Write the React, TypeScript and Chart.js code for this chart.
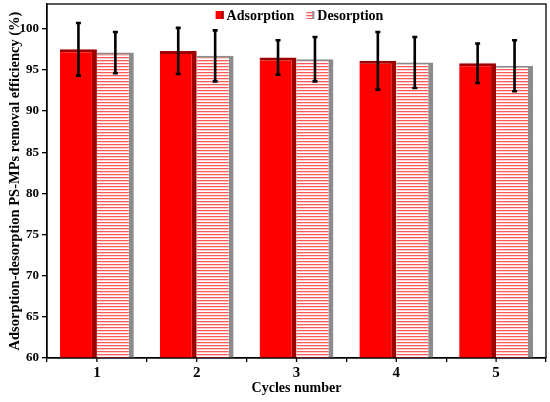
import { useEffect, useRef } from "react";
import { Chart, registerables } from "chart.js";

Chart.register(...registerables);

const cycles = ["1", "2", "3", "4", "5"];
const adsorption = [97.5, 97.3, 96.5, 96.1, 95.8];
const adsorptionErr = [3.2, 2.8, 2.1, 3.5, 2.4];
const desorption = [97.1, 96.7, 96.3, 95.9, 95.5];
const desorptionErr = [2.5, 3.1, 2.7, 3.1, 3.1];
const errors = [adsorptionErr, desorptionErr];

const FONT = "'Liberation Serif', 'Times New Roman', serif";

// striped fill for the desorption bars
function makeStripes(ctx: CanvasRenderingContext2D) {
  const c = document.createElement("canvas");
  c.width = 4;
  c.height = 3;
  const p = c.getContext("2d")!;
  p.fillStyle = "#ffffff";
  p.fillRect(0, 0, 4, 3);
  p.fillStyle = "#ff5a5a";
  p.fillRect(0, 0, 4, 1);
  p.fillStyle = "#ffd0d0";
  p.fillRect(0, 1, 4, 1);
  return ctx.createPattern(c, "repeat")!;
}

const errorBars = {
  id: "errorBars",
  afterDatasetsDraw(chart: any) {
    const { ctx } = chart;
    const y = chart.scales.y;
    ctx.save();
    ctx.strokeStyle = "#000";
    ctx.lineWidth = 2.6;
    chart.data.datasets.forEach((ds: any, i: number) => {
      const meta = chart.getDatasetMeta(i);
      meta.data.forEach((bar: any, j: number) => {
        const v = ds.data[j];
        const e = errors[i][j];
        const top = y.getPixelForValue(v + e);
        const bot = y.getPixelForValue(v - e);
        const x = bar.x;
        ctx.beginPath();
        ctx.moveTo(x, top);
        ctx.lineTo(x, bot);
        ctx.moveTo(x - 2.5, top);
        ctx.lineTo(x + 2.5, top);
        ctx.moveTo(x - 2.5, bot);
        ctx.lineTo(x + 2.5, bot);
        ctx.stroke();
      });
    });
    ctx.restore();
  },
};

const frame = {
  id: "frame",
  afterDraw(chart: any) {
    const { ctx, chartArea } = chart;
    const x = chart.scales.x;
    ctx.save();
    ctx.strokeStyle = "#000";
    ctx.lineWidth = 1.3;
    ctx.strokeRect(chartArea.left, chartArea.top, chartArea.right - chartArea.left, chartArea.bottom - chartArea.top);
    // tick marks under each category centre
    ctx.beginPath();
    cycles.forEach((_, i) => {
      const px = x.getPixelForTick(i);
      ctx.moveTo(px, chartArea.bottom);
      ctx.lineTo(px, chartArea.bottom + 4);
    });
    ctx.stroke();

    // legend inside the plot, top centre
    ctx.font = `bold 14px ${FONT}`;
    ctx.textBaseline = "middle";
    const items = chart.data.datasets.map((ds: any) => ({
      text: ds.label,
      fill: ds.backgroundColor,
      stroke: ds.borderColor,
      w: ctx.measureText(ds.label).width,
    }));
    const box = 8;
    const gap = 3;
    const between = 12;
    const total = items.reduce((s: number, it: any) => s + box + gap + it.w, 0) + between * (items.length - 1);
    let lx = (chartArea.left + chartArea.right) / 2 - total / 2 + 3;
    const ly = chartArea.top + 11;
    items.forEach((it: any) => {
      ctx.fillStyle = it.fill;
      ctx.fillRect(lx, ly - box / 2, box, box);
      ctx.fillStyle = it.stroke;
      ctx.fillRect(lx + box - 2, ly - box / 2, 2, box);
      ctx.fillStyle = "#000";
      ctx.fillText(it.text, lx + box + gap, ly + 1);
      lx += box + gap + it.w + between;
    });
    ctx.restore();
  },
};

export default function App() {
  const chartRef = useRef<HTMLCanvasElement>(null);
  const chartInstance = useRef<Chart<"bar"> | null>(null);

  useEffect(() => {
    if (!chartRef.current) return;
    const ctx = chartRef.current.getContext("2d");
    if (!ctx) return;

    Chart.defaults.font.family = FONT;
    Chart.defaults.font.weight = "bold";
    Chart.defaults.color = "#000";

    chartInstance.current = new Chart(ctx, {
      type: "bar",
      data: {
        labels: cycles,
        datasets: [
          {
            label: "Adsorption",
            data: adsorption,
            backgroundColor: "#ff0000",
            borderColor: "#9e0000",
            borderWidth: { top: 3, right: 5, left: 0, bottom: 0 },
            borderSkipped: "start",
            barPercentage: 1,
            categoryPercentage: 0.74,
          },
          {
            label: "Desorption",
            data: desorption,
            backgroundColor: makeStripes(ctx),
            borderColor: "#8c8c8c",
            borderWidth: { top: 2, right: 5, left: 0, bottom: 0 },
            borderSkipped: "start",
            barPercentage: 1,
            categoryPercentage: 0.74,
          },
        ],
      },
      options: {
        animation: false,
        responsive: true,
        maintainAspectRatio: false,
        layout: { padding: { top: 4, right: 4, left: 0, bottom: 0 } },
        plugins: {
          tooltip: { enabled: false },
          legend: { display: false },
        },
        scales: {
          x: {
            grid: {
              offset: true,
              drawOnChartArea: false,
              drawTicks: true,
              tickLength: 4,
              color: "#000",
              lineWidth: 1.3,
            },
            border: { display: true, color: "#000", width: 1.3 },
            ticks: { font: { size: 15, weight: "bold" }, padding: 2 },
            title: {
              display: true,
              text: "Cycles number",
              font: { size: 14, weight: "bold" },
              padding: { top: 0, bottom: 5 },
            },
            afterFit: (s: any) => {
              s.height = 44;
            },
          },
          y: {
            min: 60,
            max: 103,
            ticks: { stepSize: 5, font: { size: 13, weight: "bold" }, padding: 3 },
            afterBuildTicks: (s: any) => {
              s.ticks = s.ticks.filter((t: any) => t.value % 5 === 0);
            },
            grid: {
              drawOnChartArea: false,
              drawTicks: true,
              tickLength: 5,
              color: "#000",
              lineWidth: 1.3,
            },
            border: { display: true, color: "#000", width: 1.3 },
            title: {
              display: true,
              text: "Adsorption-desorption PS-MPs removal efficiency (%)",
              font: { size: 14.5, weight: "bold" },
              padding: { top: 7, bottom: 0 },
            },
            afterFit: (s: any) => {
              s.width = 47;
              s.paddingTop = 0;
              s.paddingBottom = 0;
            },
          },
        },
      },
      plugins: [errorBars, frame],
    });

    return () => {
      if (chartInstance.current) {
        chartInstance.current.destroy();
      }
    };
  }, []);

  return (
    <div style={{ position: "absolute", left: 0, top: 0, width: 550, height: 402, background: "#fff" }}>
      <canvas ref={chartRef} />
    </div>
  );
}
